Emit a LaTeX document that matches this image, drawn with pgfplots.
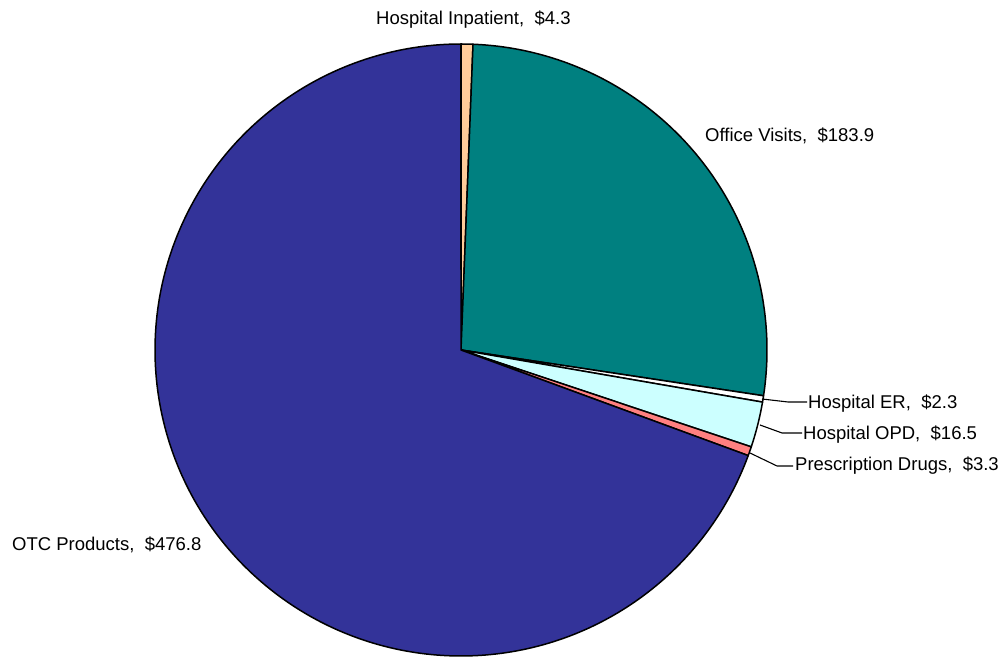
\documentclass[border=0pt]{standalone}
\usepackage{pgfplots}
\pgfplotsset{compat=1.18}
\usepackage{fontspec}
\setmainfont{Liberation Sans}

\definecolor{inpat}{HTML}{FFCC99}
\definecolor{office}{HTML}{008080}
\definecolor{er}{HTML}{FFFFFF}
\definecolor{opd}{HTML}{CCFFFF}
\definecolor{rx}{HTML}{FF8080}
\definecolor{otc}{HTML}{333399}

% spending values
\def\vInpat{4.3}
\def\vOffice{183.9}
\def\vER{2.3}
\def\vOPD{16.5}
\def\vRx{3.3}
\def\vOTC{476.8}
\pgfmathsetmacro{\total}{\vInpat+\vOffice+\vER+\vOPD+\vRx+\vOTC}
% slice boundaries, clockwise from 12 o'clock
\pgfmathsetmacro{\aA}{90}
\pgfmathsetmacro{\aB}{\aA-\vInpat/\total*360}
\pgfmathsetmacro{\aC}{\aB-\vOffice/\total*360}
\pgfmathsetmacro{\aD}{\aC-\vER/\total*360}
\pgfmathsetmacro{\aE}{\aD-\vOPD/\total*360}
\pgfmathsetmacro{\aF}{\aE-\vRx/\total*360}
\pgfmathsetmacro{\aG}{\aF-\vOTC/\total*360}

\def\cx{461}
\def\cy{-350}
\def\rr{306}

\tikzset{slicelabel/.style={font=\fontsize{18.5}{22}\selectfont, inner sep=0pt}}

\begin{document}
\begin{tikzpicture}
\begin{axis}[
  scale only axis, width=1003pt, height=656pt,
  xmin=0, xmax=1003, ymin=-656, ymax=0,
  hide axis, clip=false,
  every axis plot/.append style={draw=black, line width=1.5pt, line join=round},
]
  \addplot[draw=none] coordinates {(0,0) (1003,-656)};
  \addplot[fill=inpat, domain=\aB:\aA, samples=5] ({\cx+\rr*cos(x)},{\cy+\rr*sin(x)}) -- (axis cs:\cx,\cy) -- cycle;
  \addplot[fill=office, domain=\aC:\aB, samples=120] ({\cx+\rr*cos(x)},{\cy+\rr*sin(x)}) -- (axis cs:\cx,\cy) -- cycle;
  \addplot[fill=er, domain=\aD:\aC, samples=5] ({\cx+\rr*cos(x)},{\cy+\rr*sin(x)}) -- (axis cs:\cx,\cy) -- cycle;
  \addplot[fill=opd, domain=\aE:\aD, samples=15] ({\cx+\rr*cos(x)},{\cy+\rr*sin(x)}) -- (axis cs:\cx,\cy) -- cycle;
  \addplot[fill=rx, domain=\aF:\aE, samples=5] ({\cx+\rr*cos(x)},{\cy+\rr*sin(x)}) -- (axis cs:\cx,\cy) -- cycle;
  \addplot[fill=otc, domain=\aG:\aF, samples=250] ({\cx+\rr*cos(x)},{\cy+\rr*sin(x)}) -- (axis cs:\cx,\cy) -- cycle;

  % leader lines
  \addplot[line width=1.1pt, fill=none] coordinates {(762,-399) (788,-402) (807,-402)};
  \addplot[line width=1.1pt, fill=none] coordinates {(760,-425) (782,-433) (802,-433)};
  \addplot[line width=1.1pt, fill=none] coordinates {(750,-453) (777,-466) (793,-466)};

  % labels
  \node[slicelabel, anchor=west] at (axis cs:376,-20) {Hospital Inpatient,\ \ \$4.3};
  \node[slicelabel, anchor=west] at (axis cs:705,-136) {Office Visits,\ \ \$183.9};
  \node[slicelabel, anchor=west] at (axis cs:808,-404) {Hospital ER,\ \ \$2.3};
  \node[slicelabel, anchor=west] at (axis cs:803,-435) {Hospital OPD,\ \ \$16.5};
  \node[slicelabel, anchor=west] at (axis cs:795,-466) {Prescription Drugs,\ \ \$3.3};
  \node[slicelabel, anchor=west] at (axis cs:12,-545) {OTC Products,\ \ \$476.8};
\end{axis}
\end{tikzpicture}
\end{document}
